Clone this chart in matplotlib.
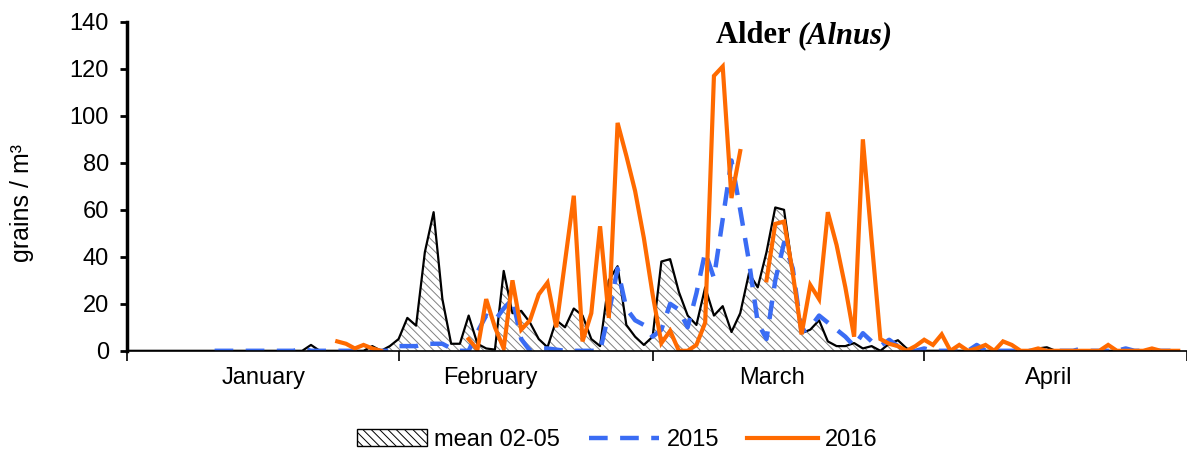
import numpy as np
import matplotlib
matplotlib.use("Agg")
import matplotlib.pyplot as plt
from matplotlib.patches import Patch
from matplotlib.lines import Line2D

# day index: 0 = 1 January ... 120 = 30 April (2016, leap year)
days = np.arange(121)

# mean 02-05, by day index (all other days 0)
mean_vals = {21: 2.5, 28: 2, 30: 2, 31: 5, 32: 14, 33: 10.7, 34: 42, 35: 59, 36: 22,
             37: 3, 38: 3, 39: 15, 40: 3, 41: 1, 42: 0.5, 43: 34, 44: 16, 45: 17,
             46: 12, 47: 5, 48: 1.5, 49: 13, 50: 10, 51: 18, 52: 15, 53: 5, 54: 2,
             55: 30, 56: 36, 57: 11, 58: 6, 59: 2.5, 60: 6, 61: 38, 62: 39, 63: 25,
             64: 15, 65: 11, 66: 27, 67: 15, 68: 19, 69: 8, 70: 16, 71: 33, 72: 27,
             73: 42, 74: 61, 75: 60, 76: 34, 77: 7.5, 78: 9, 79: 13, 80: 4, 81: 2,
             82: 2, 83: 3.3, 84: 1, 85: 2, 87: 3, 88: 4.5, 89: 1, 104: 1, 105: 1.5}

# 2015, starts 11 January
y2015_vals = {20: 1, 31: 2, 32: 2, 33: 2, 34: 3, 35: 3, 36: 3, 37: 1, 40: 8, 41: 15,
              42: 13, 43: 18, 44: 22, 45: 5, 47: 1, 48: 1, 49: 0.5, 55: 16, 56: 35,
              57: 18, 58: 13, 59: 11, 60: 6, 61: 9, 62: 20, 63: 17.5, 64: 10, 65: 24.5,
              66: 42, 67: 31, 68: 56, 69: 81, 70: 60, 71: 38, 72: 12, 73: 5, 74: 30,
              75: 46, 76: 35, 77: 8, 78: 10, 79: 15, 80: 12, 81: 9, 82: 6, 83: 2,
              84: 7.5, 85: 4, 86: 2, 87: 4.7, 88: 2, 91: 1, 97: 2.5, 109: 1, 114: 1}
y2015_start = 10

# 2016, with missing days
y2016_vals = {24: 4, 25: 3, 26: 1, 27: 2.5, 28: 1, 29: 0,
              39: 5, 40: 0.5, 41: 22, 42: 10, 43: 1, 44: 30, 45: 9, 46: 13, 47: 24,
              48: 29, 49: 10, 50: 38, 51: 66, 52: 4, 53: 16, 54: 53, 55: 14, 56: 97,
              57: 83, 58: 68, 59: 48, 60: 24, 61: 3.3, 62: 8.5, 63: 0, 64: 0, 65: 2.5,
              66: 12, 67: 117, 68: 121, 69: 65, 70: 85,
              73: 30, 74: 54, 75: 55, 76: 33, 77: 7, 78: 28, 79: 22, 80: 59, 81: 45,
              82: 27, 83: 6, 84: 90, 85: 47, 86: 5, 87: 3, 88: 2, 89: 0, 90: 2,
              91: 4.7, 92: 2.5, 93: 7, 94: 0, 95: 2.5, 96: 0, 97: 1, 98: 2.5, 99: 0,
              100: 4, 101: 2.5, 102: 0, 103: 0, 104: 1, 105: 0, 106: 0, 107: 0,
              108: 0, 109: 0, 110: 0, 111: 0, 112: 2.5, 113: 0, 114: 0, 115: 0,
              116: 0, 117: 1, 118: 0, 119: 0, 120: 0}

months = ["January", "February", "March", "April"]
month_starts = [0, 31, 60, 91, 121]

mean = np.array([mean_vals.get(d, 0.0) for d in days])
y2015 = np.array([y2015_vals.get(d, 0.0) if d >= y2015_start else np.nan for d in days])
y2016 = np.array([y2016_vals.get(d, np.nan) for d in days])

plt.rcParams['font.family'] = ['Liberation Sans', 'DejaVu Sans']
plt.rcParams['hatch.color'] = '#808080'
plt.rcParams['hatch.linewidth'] = 0.7

fig = plt.figure(figsize=(11.87, 4.55), dpi=100)
ax = fig.add_axes([0.107, 0.229, 0.893, 0.723])

orange = '#FF6A00'
blue = '#3A6CF4'

ax.fill_between(days, 0, mean, facecolor='white', hatch='\\\\\\\\', edgecolor='#808080', linewidth=0)
ax.plot(days, mean, color='black', lw=1.6)
ax.plot(days, y2015, color=blue, lw=3.2, dashes=(4.2, 2.8))
ax.plot(days, y2016, color=orange, lw=3.0, solid_joinstyle='miter')

ax.set_xlim(0, 120.2)
ax.set_ylim(0, 140)
ax.set_yticks(np.arange(0, 141, 20))
ax.set_xticks(month_starts)
ax.set_xticklabels([])
ax.tick_params(axis='y', labelsize=17, length=5, width=2, direction='out', pad=8)
ax.tick_params(axis='x', length=7, width=1.2, direction='out')
for s in ['top', 'right']:
    ax.spines[s].set_visible(False)
ax.spines['left'].set_linewidth(2.5)
ax.spines['bottom'].set_linewidth(1.2)

label_pos = [15.6, 41.5, 73.6, 105.2]
for m, xp in zip(months, label_pos):
    ax.text(xp, -7, m, ha='center', va='top', fontsize=17)

ax.set_ylabel('grains / m³', fontsize=18)
ax.yaxis.set_label_coords(-0.088, 0.45)

t1 = ax.text(67.2, 134, 'Alder ', fontsize=22, fontweight='bold',
             family='Liberation Serif', ha='left', va='center')
ax.annotate('(Alnus)', xy=(1, 0), xycoords=t1, va='bottom', ha='left',
            fontsize=22, fontweight='bold', fontstyle='italic', family='Liberation Serif')

handles = [Patch(facecolor='white', edgecolor='black', hatch='\\\\\\\\', lw=1),
           Line2D([], [], color=blue, lw=3.2, dashes=(4.2, 2.8)),
           Line2D([], [], color=orange, lw=3.0)]
fig.legend(handles, ['mean 02-05', '2015', '2016'], loc='center', bbox_to_anchor=(0.52, 0.033),
           ncol=3, frameon=False, fontsize=17, handlelength=3.0, handleheight=0.7,
           columnspacing=1.2, handletextpad=0.3)

fig.savefig('out.png', dpi=100)
